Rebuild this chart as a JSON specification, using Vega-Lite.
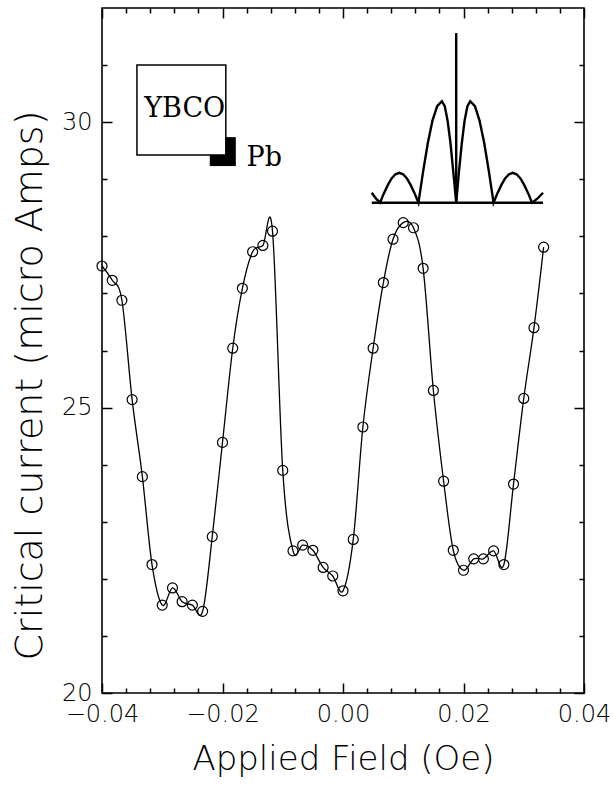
{
  "$schema": "https://vega.github.io/schema/vega-lite/v6.json",
  "width": 482,
  "height": 685,
  "autosize": "none",
  "padding": {"left": 102, "top": 8, "right": 29, "bottom": 92},
  "background": "white",
  "datasets": {
    "pts": [
      {"f": -0.0400, "c": 27.48}, {"f": -0.0383, "c": 27.23}, {"f": -0.0367, "c": 26.88}, {"f": -0.0350, "c": 25.14},
      {"f": -0.0333, "c": 23.79}, {"f": -0.0317, "c": 22.25}, {"f": -0.0300, "c": 21.54}, {"f": -0.0283, "c": 21.84},
      {"f": -0.0267, "c": 21.60}, {"f": -0.0250, "c": 21.54}, {"f": -0.0233, "c": 21.43}, {"f": -0.0217, "c": 22.74},
      {"f": -0.0200, "c": 24.39}, {"f": -0.0183, "c": 26.04}, {"f": -0.0167, "c": 27.09}, {"f": -0.0150, "c": 27.73},
      {"f": -0.0133, "c": 27.84}, {"f": -0.0117, "c": 28.09}, {"f": -0.0100, "c": 23.90}, {"f": -0.0083, "c": 22.49},
      {"f": -0.0067, "c": 22.59}, {"f": -0.0050, "c": 22.50}, {"f": -0.0033, "c": 22.20}, {"f": -0.0017, "c": 22.05},
      {"f": 0.0000, "c": 21.79}, {"f": 0.0017, "c": 22.69}, {"f": 0.0033, "c": 24.66}, {"f": 0.0050, "c": 26.04},
      {"f": 0.0067, "c": 27.19}, {"f": 0.0083, "c": 27.95}, {"f": 0.0100, "c": 28.24}, {"f": 0.0117, "c": 28.15},
      {"f": 0.0133, "c": 27.44}, {"f": 0.0150, "c": 25.30}, {"f": 0.0167, "c": 23.71}, {"f": 0.0183, "c": 22.50},
      {"f": 0.0200, "c": 22.15}, {"f": 0.0217, "c": 22.35}, {"f": 0.0233, "c": 22.35}, {"f": 0.0250, "c": 22.49},
      {"f": 0.0267, "c": 22.25}, {"f": 0.0283, "c": 23.66}, {"f": 0.0300, "c": 25.16}, {"f": 0.0317, "c": 26.40},
      {"f": 0.0333, "c": 27.81}
    ],
    "inset": [
      {"f": 0.00477, "c": 28.764}, {"f": 0.00549, "c": 28.659}, {"f": 0.00615, "c": 28.589},
      {"f": 0.00678, "c": 28.752}, {"f": 0.00743, "c": 28.897}, {"f": 0.00806, "c": 29.014}, {"f": 0.00870, "c": 29.087},
      {"f": 0.00934, "c": 29.113}, {"f": 0.00998, "c": 29.087}, {"f": 0.01061, "c": 29.014}, {"f": 0.01124, "c": 28.897},
      {"f": 0.01189, "c": 28.752}, {"f": 0.01252, "c": 28.589},
      {"f": 0.01330, "c": 29.138}, {"f": 0.01408, "c": 29.634}, {"f": 0.01485, "c": 30.028}, {"f": 0.01563, "c": 30.280},
      {"f": 0.01641, "c": 30.367}, {"f": 0.01689, "c": 30.280}, {"f": 0.01736, "c": 30.028}, {"f": 0.01784, "c": 29.634},
      {"f": 0.01830, "c": 29.138}, {"f": 0.01879, "c": 28.589},
      {"f": 0.01925, "c": 29.138}, {"f": 0.01972, "c": 29.634}, {"f": 0.02018, "c": 30.028}, {"f": 0.02065, "c": 30.280},
      {"f": 0.02111, "c": 30.367}, {"f": 0.02190, "c": 30.280}, {"f": 0.02266, "c": 30.028}, {"f": 0.02344, "c": 29.634},
      {"f": 0.02421, "c": 29.138}, {"f": 0.02499, "c": 28.589},
      {"f": 0.02562, "c": 28.752}, {"f": 0.02627, "c": 28.897}, {"f": 0.02690, "c": 29.014}, {"f": 0.02755, "c": 29.087},
      {"f": 0.02818, "c": 29.113}, {"f": 0.02881, "c": 29.087}, {"f": 0.02946, "c": 29.014}, {"f": 0.03009, "c": 28.897},
      {"f": 0.03074, "c": 28.752}, {"f": 0.03137, "c": 28.589},
      {"f": 0.03225, "c": 28.659}, {"f": 0.03320, "c": 28.764}
    ],
    "spike": [{"f": 0.01879, "c1": 28.589, "c2": 31.561}],
    "base": [{"f1": 0.00477, "f2": 0.03320, "c": 28.589}],
    "pb": [{"f1": -0.02211, "f2": -0.01779, "c1": 29.231, "c2": 29.738}],
    "ybco": [{"f1": -0.03420, "f2": -0.01945, "c1": 29.423, "c2": 31.0}],
    "lab1": [{"f": -0.02627, "c": 30.236, "t": "YBCO"}],
    "lab2": [{"f": -0.01601, "c": 29.376, "t": "Pb"}]
  },
  "resolve": {"axis": {"x": "independent", "y": "independent"}},
  "layer": [
    {
      "data": {"name": "pts"},
      "mark": {"type": "line", "interpolate": "cardinal", "tension": 0, "color": "black", "strokeWidth": 1.3},
      "encoding": {
        "x": {"field": "f", "type": "quantitative",
              "scale": {"domain": [-0.04, 0.04], "nice": false, "zero": false},
              "axis": {"orient": "bottom", "values": [-0.04, -0.02, 0, 0.02, 0.04], "format": ".2f",
                       "tickSize": -10, "labelPadding": 19, "labelFlush": false, "labelOverlap": false,
                       "title": "Applied Field (Oe)", "titlePadding": 16}},
        "y": {"field": "c", "type": "quantitative",
              "scale": {"domain": [20, 32], "nice": false, "zero": false},
              "axis": {"orient": "left", "values": [20, 25, 30], "format": "d",
                       "tickSize": -10, "labelPadding": 20, "labelOverlap": false,
                       "title": "Critical current (micro Amps)", "titlePadding": 12,
                       "titleFontSize": 38, "titleY": 377}}
      }
    },
    {
      "data": {"name": "pts"},
      "mark": {"type": "point", "shape": "circle", "filled": false, "color": "black", "strokeWidth": 1.2, "size": 100, "opacity": 1},
      "encoding": {
        "x": {"field": "f", "type": "quantitative",
              "axis": {"orient": "bottom", "values": [-0.036, -0.032, -0.028, -0.024, -0.016, -0.012, -0.008, -0.004, 0.004, 0.008, 0.012, 0.016, 0.024, 0.028, 0.032, 0.036],
                       "tickSize": -5, "labels": false, "title": null}},
        "y": {"field": "c", "type": "quantitative",
              "axis": {"orient": "left", "values": [21, 22, 23, 24, 26, 27, 28, 29, 31],
                       "tickSize": -5, "labels": false, "title": null}}
      }
    },
    {
      "data": {"name": "inset"},
      "mark": {"type": "line", "interpolate": "linear", "color": "black", "strokeWidth": 2.4},
      "encoding": {
        "x": {"field": "f", "type": "quantitative",
              "axis": {"orient": "top", "values": [-0.04, -0.02, 0, 0.02, 0.04], "tickSize": -10, "labels": false, "title": null}},
        "y": {"field": "c", "type": "quantitative",
              "axis": {"orient": "right", "values": [20, 25, 30], "tickSize": -10, "labels": false, "title": null}}
      }
    },
    {
      "data": {"name": "spike"},
      "mark": {"type": "rule", "color": "black", "strokeWidth": 2.4},
      "encoding": {
        "x": {"field": "f", "type": "quantitative",
              "axis": {"orient": "top", "values": [-0.036, -0.032, -0.028, -0.024, -0.016, -0.012, -0.008, -0.004, 0.004, 0.008, 0.012, 0.016, 0.024, 0.028, 0.032, 0.036],
                       "tickSize": -5, "labels": false, "title": null}},
        "y": {"field": "c1", "type": "quantitative",
              "axis": {"orient": "right", "values": [21, 22, 23, 24, 26, 27, 28, 29, 31],
                       "tickSize": -5, "labels": false, "title": null}},
        "y2": {"field": "c2"}
      }
    },
    {
      "data": {"name": "base"},
      "mark": {"type": "rule", "color": "black", "strokeWidth": 2.4},
      "encoding": {
        "x": {"field": "f1", "type": "quantitative", "axis": null},
        "x2": {"field": "f2"},
        "y": {"field": "c", "type": "quantitative", "axis": null}
      }
    },
    {
      "data": {"name": "pb"},
      "mark": {"type": "rect", "color": "black"},
      "encoding": {
        "x": {"field": "f1", "type": "quantitative", "axis": null},
        "x2": {"field": "f2"},
        "y": {"field": "c1", "type": "quantitative", "axis": null},
        "y2": {"field": "c2"}
      }
    },
    {
      "data": {"name": "ybco"},
      "mark": {"type": "rect", "fill": "white", "stroke": "black", "strokeWidth": 1.5},
      "encoding": {
        "x": {"field": "f1", "type": "quantitative", "axis": null},
        "x2": {"field": "f2"},
        "y": {"field": "c1", "type": "quantitative", "axis": null},
        "y2": {"field": "c2"}
      }
    },
    {
      "data": {"name": "lab1"},
      "mark": {"type": "text", "font": "DejaVu Serif", "fontSize": 27, "align": "center", "baseline": "middle", "color": "black"},
      "encoding": {
        "x": {"field": "f", "type": "quantitative", "axis": null},
        "y": {"field": "c", "type": "quantitative", "axis": null},
        "text": {"field": "t"}
      }
    },
    {
      "data": {"name": "lab2"},
      "mark": {"type": "text", "font": "DejaVu Serif", "fontSize": 27, "align": "left", "baseline": "middle", "color": "black"},
      "encoding": {
        "x": {"field": "f", "type": "quantitative", "axis": null},
        "y": {"field": "c", "type": "quantitative", "axis": null},
        "text": {"field": "t"}
      }
    }
  ],
  "config": {
    "view": {"stroke": "black", "strokeWidth": 1.6},
    "axis": {
      "grid": false, "domain": false, "tickColor": "black", "tickWidth": 1.5,
      "labelColor": "black", "titleColor": "black",
      "labelFont": "DejaVu Sans", "titleFont": "DejaVu Sans",
      "labelFontSize": 24, "titleFontSize": 34, "titleFontWeight": 200, "labelFontWeight": 200
    }
  }
}
